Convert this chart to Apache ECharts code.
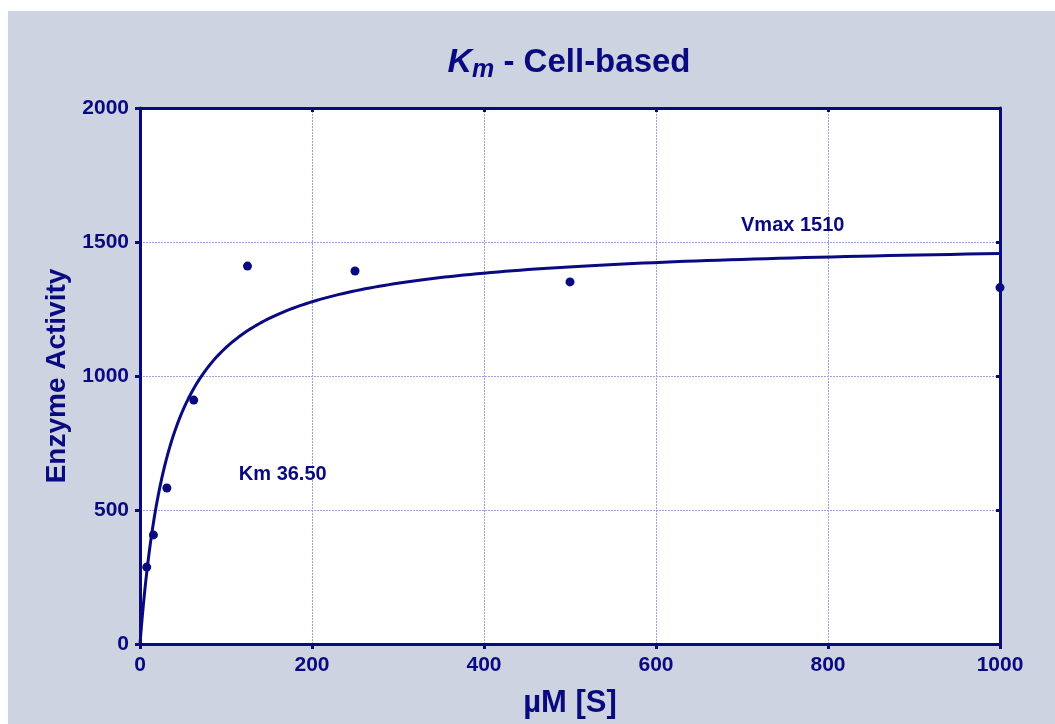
<!DOCTYPE html>
<html>
<head>
<meta charset="utf-8">
<script src="https://cdn.jsdelivr.net/npm/echarts@6/dist/echarts.min.js"></script>
<style>
  html, body { margin: 0; padding: 0; background: #ffffff; }
  #chart { width: 1055px; height: 724px; }
</style>
</head>
<body>
<div id="chart"></div>
<script>
// Substrate concentrations (µM) and measured enzyme activity
const substrate = [7.8125, 15.625, 31.25, 62.5, 125, 250, 500, 1000];
const activity  = [287, 407, 582, 910, 1410, 1392, 1351, 1330];

// Michaelis-Menten fit parameters
const Vmax = 1510;
const Km = 36.50;

// Axis tick settings
const xTicks = { min: 0, max: 1000, interval: 200 };
const yTicks = { min: 0, max: 2000, interval: 500 };

const NAVY = '#0a0a80';
const FONT = '"Liberation Sans", Arial, sans-serif';

// Fitted curve sampled along the x range (denser near the origin)
const fitCurve = [];
for (let i = 0; i <= 400; i++) {
  const s = i === 0 ? 0 : Math.pow(1000, i / 400) * (i / 400);
  fitCurve.push([s, Vmax * s / (Km + s)]);
}

const points = substrate.map((s, i) => [s, activity[i]]);

const chart = echarts.init(document.getElementById('chart'), null, { renderer: 'canvas' });

const gridLine = { show: true, lineStyle: { color: '#9ca2da', width: 1, type: [2, 1] } };
const plain = v => String(v);
const tickLabel = { fontFamily: FONT, fontSize: 21, fontWeight: 'bold', color: NAVY, formatter: plain };
const frameLine = { show: true, onZero: false, lineStyle: { color: NAVY, width: 3 } };

chart.setOption({
  backgroundColor: 'transparent',
  animation: false,
  graphic: [{
    type: 'rect', left: 8, top: 11, z: -10,
    shape: { width: 1047, height: 713 },
    style: { fill: '#cdd3e0' }
  }],
  title: {
    text: '{k|K}{m|m}{t| - Cell-based}',
    left: 564, top: 37, textAlign: 'center',
    textStyle: {
      rich: {
        k: { fontFamily: FONT, fontSize: 34, fontWeight: 'bold', fontStyle: 'italic', color: NAVY },
        m: { fontFamily: FONT, fontSize: 25, fontWeight: 'bold', fontStyle: 'italic', color: NAVY, padding: [16, 0, 0, 0] },
        t: { fontFamily: FONT, fontSize: 33, fontWeight: 'bold', color: NAVY }
      }
    }
  },
  grid: { left: 140, right: 55, top: 108, bottom: 80, show: true, backgroundColor: '#ffffff', borderWidth: 0 },
  xAxis: [{
    type: 'value', position: 'bottom', ...xTicks,
    name: 'µM [S]', nameLocation: 'middle', nameGap: 44,
    nameTextStyle: { fontFamily: FONT, fontSize: 31, fontWeight: 'bold', color: NAVY },
    axisLine: frameLine,
    axisTick: { show: true, length: 5, lineStyle: { color: NAVY, width: 3 } },
    axisLabel: { ...tickLabel, margin: 11 },
    splitLine: gridLine
  }, {
    type: 'value', position: 'top', ...xTicks,
    axisLine: frameLine,
    axisTick: { show: true, inside: true, length: 4, lineStyle: { color: NAVY, width: 3 } },
    axisLabel: { show: false },
    splitLine: { show: false }
  }],
  yAxis: [{
    type: 'value', position: 'left', ...yTicks,
    name: 'Enzyme Activity', nameLocation: 'middle', nameGap: 69,
    nameTextStyle: { fontFamily: FONT, fontSize: 28, fontWeight: 'bold', color: NAVY },
    axisLine: frameLine,
    axisTick: { show: true, length: 5, lineStyle: { color: NAVY, width: 3 } },
    axisLabel: { ...tickLabel, margin: 11 },
    splitLine: gridLine
  }, {
    type: 'value', position: 'right', ...yTicks,
    axisLine: frameLine,
    axisTick: { show: true, inside: true, length: 4, lineStyle: { color: NAVY, width: 3 } },
    axisLabel: { show: false },
    splitLine: { show: false }
  }],
  series: [{
    type: 'line', data: fitCurve, showSymbol: false, smooth: false,
    lineStyle: { color: NAVY, width: 3 }, z: 3, clip: false
  }, {
    type: 'scatter', data: points, symbolSize: 9,
    itemStyle: { color: NAVY, opacity: 1 }, z: 4, clip: false
  }, {
    // Fit parameter annotations placed in data coordinates
    type: 'scatter', symbolSize: 0, silent: true,
    itemStyle: { opacity: 1 },
    data: [
      { value: [759, 1560], label: { formatter: 'Vmax ' + Vmax } },
      { value: [166, 634], label: { formatter: 'Km ' + Km.toFixed(2) } }
    ],
    label: { show: true, position: 'inside', fontFamily: FONT, fontSize: 20, fontWeight: 'bold', color: NAVY }
  }]
});
</script>
</body>
</html>
